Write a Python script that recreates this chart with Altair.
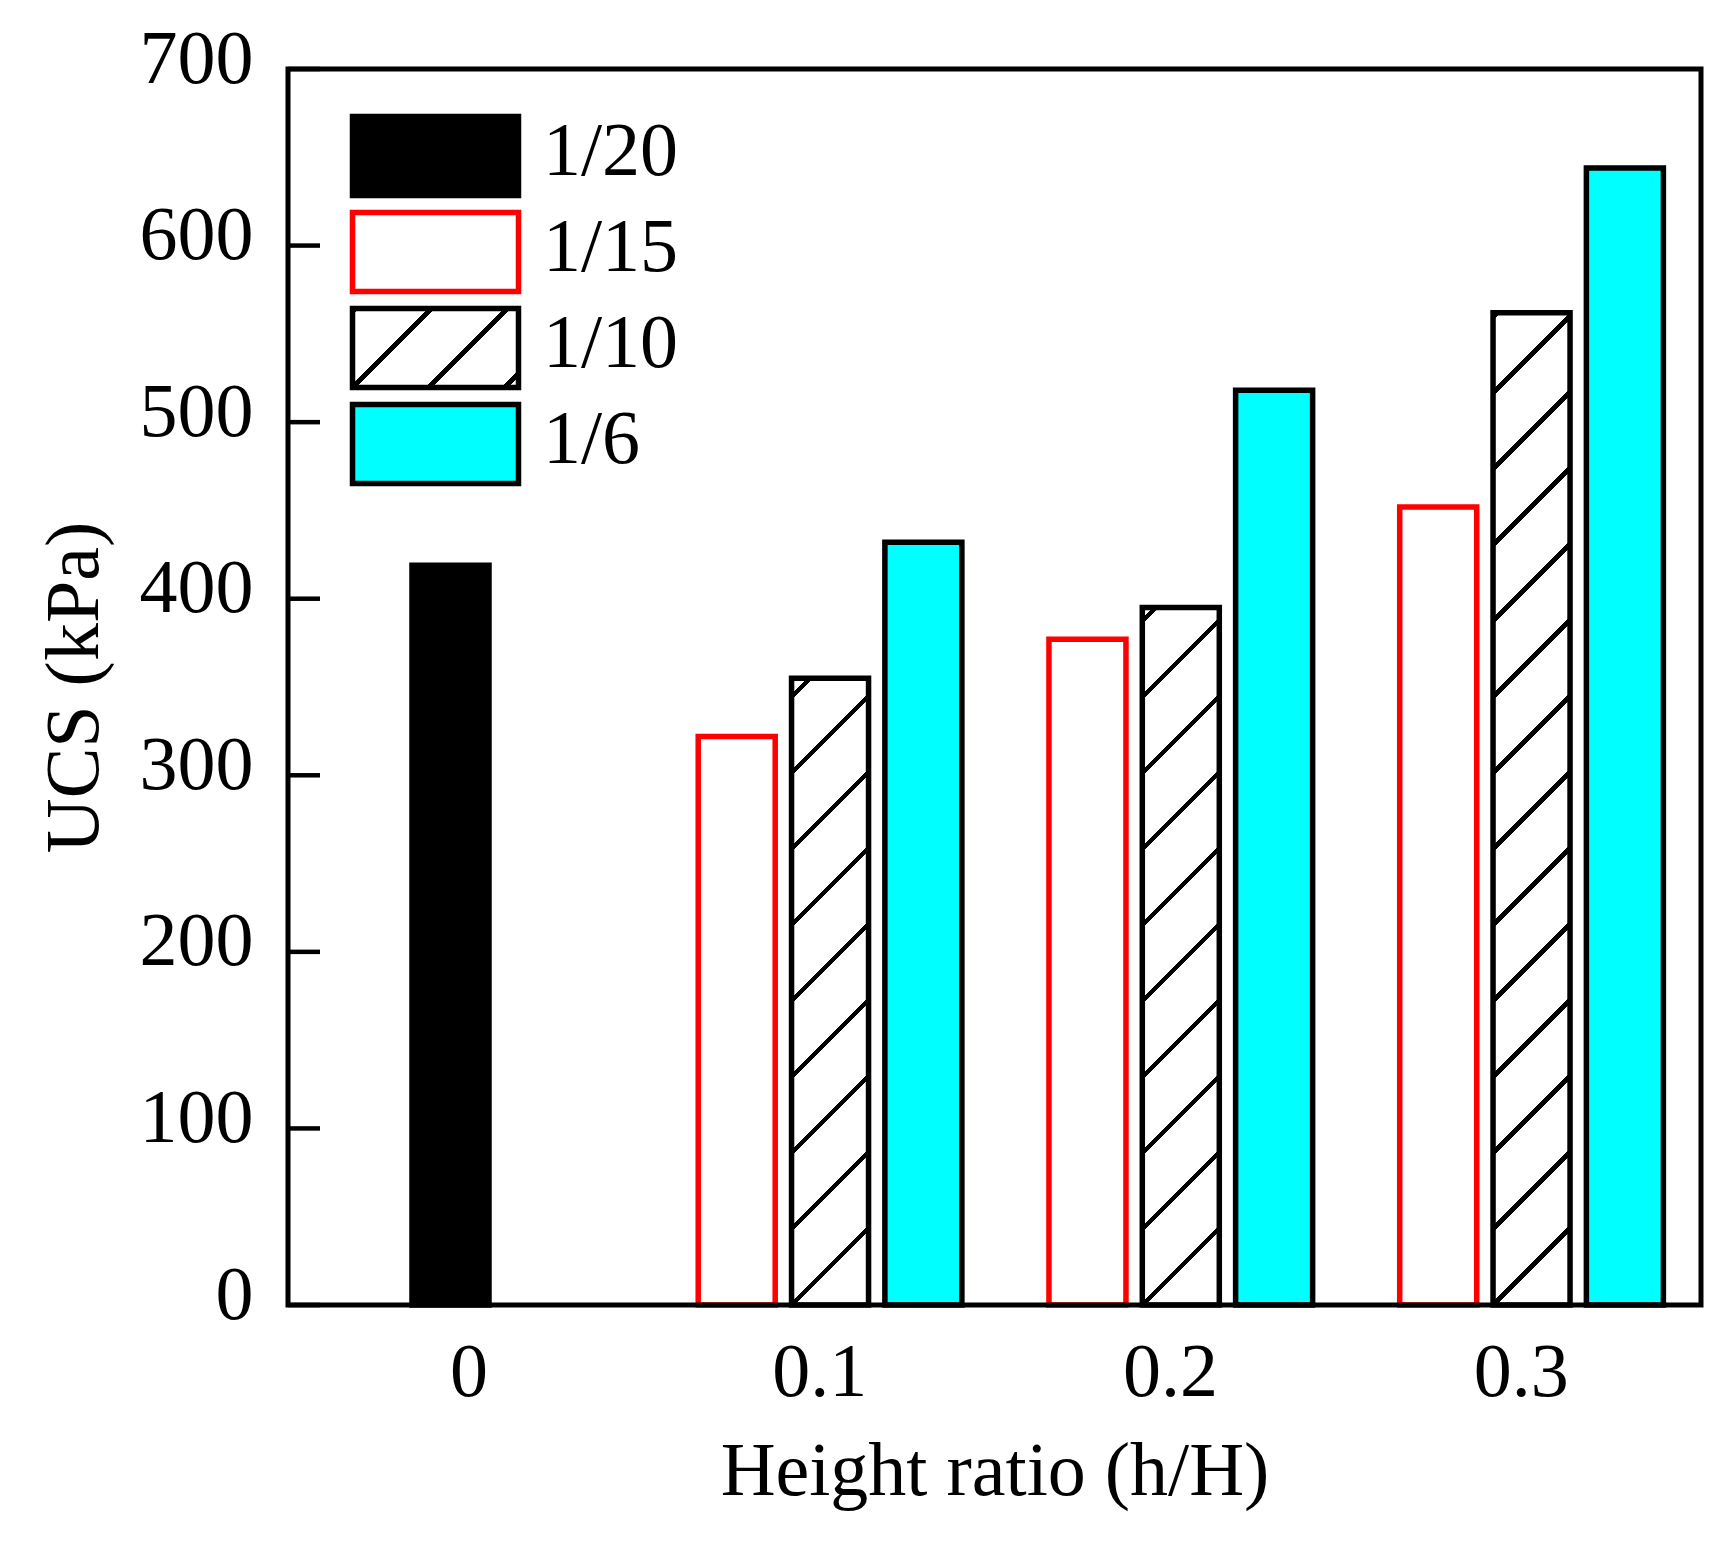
import altair as alt
import pandas as pd

# values (UCS in kPa)
groups = [0, 0.1, 0.2, 0.3]
series = ["1/20", "1/15", "1/10", "1/6"]
ucs_1_20 = [419, None, None, None]
ucs_1_15 = [None, 322, 377, 452]
ucs_1_10 = [None, 355, 395, 562]
ucs_1_6 = [None, 432, 518, 644]
y_ticks = [0, 100, 200, 300, 400, 500, 600, 700]

W, H = 1413, 1236
X_DOMAIN = [-0.05, 0.35]
Y_MAX = 700
FONT = "Liberation Serif"
FS = 76
BAR_W = 77
SW = 5.5

# where each series sits inside its group, in pixels from the group tick
shift_px = {"1/20": -18, "1/15": -83, "1/10": 11, "1/6": 105}
style = {
    "1/20": dict(fill="#000000", stroke="#000000"),
    "1/15": dict(fill="#ffffff", stroke="#ff0000"),
    "1/10": dict(fill="#ffffff", stroke="#000000"),
    "1/6": dict(fill="#00ffff", stroke="#000000"),
}
px_per_unit = W / (X_DOMAIN[1] - X_DOMAIN[0])

rows = []
for s, vals in zip(series, [ucs_1_20, ucs_1_15, ucs_1_10, ucs_1_6]):
    for g, v in zip(groups, vals):
        if v is not None:
            rows.append({"series": s, "group": g, "ucs": v,
                         "pos": g + shift_px[s] / px_per_unit})
df = pd.DataFrame(rows)


def hatch(w, h, gap=76, thick=4.5):
    """diagonal '/' hatching as a striped linear gradient over a w x h box"""
    total = w + h
    c = (1 / h + 1 / w) / (1 / h ** 2 + 1 / w ** 2)
    half = thick * 2 ** 0.5 / 2
    stops = [alt.GradientStop(offset=0, color="white")]
    s = h % gap - gap
    while s < total + gap:
        a = min(max((s - half) / total, 0), 1)
        b = min(max((s + half) / total, 0), 1)
        if b > a:
            stops += [alt.GradientStop(offset=a, color="white"),
                      alt.GradientStop(offset=a, color="black"),
                      alt.GradientStop(offset=b, color="black"),
                      alt.GradientStop(offset=b, color="white")]
        s += gap
    stops.append(alt.GradientStop(offset=1, color="white"))
    return alt.LinearGradient(gradient="linear", stops=stops,
                              x1=0, y1=0, x2=c / h, y2=c / w)


x_enc = alt.X("pos:Q", title="Height ratio (h/H)",
              scale=alt.Scale(domain=X_DOMAIN, nice=False, zero=False),
              axis=alt.Axis(values=groups, format="~g", ticks=False, tickSize=0,
                            domain=False, grid=False, labelPadding=30,
                            titleY=129))
y_enc = alt.Y("ucs:Q", title="UCS (kPa)",
              scale=alt.Scale(domain=[0, Y_MAX], nice=False),
              axis=alt.Axis(values=y_ticks, ticks=False, tickSize=0, domain=False,
                            grid=False, labelPadding=35, labelOffset=-10,
                            titleX=-175, titleY=H / 2))

base = alt.Chart(df).encode(x=x_enc, y=y_enc)
layers = []
for s in series:
    if s == "1/10":
        for g, v in zip(groups, ucs_1_10):
            if v is None:
                continue
            layers.append(
                base.transform_filter((alt.datum.series == s) & (alt.datum.group == g))
                .mark_bar(width=BAR_W, fill=hatch(BAR_W, v / Y_MAX * H),
                          stroke="#000000", strokeWidth=SW)
            )
    else:
        layers.append(
            base.transform_filter(alt.datum.series == s)
            .mark_bar(width=BAR_W, strokeWidth=SW, **style[s])
        )

# inward ticks on the left axis
ticks = alt.Chart(pd.DataFrame({"ucs": y_ticks})).mark_rule(
    stroke="#000000", strokeWidth=4.5
).encode(y=y_enc, x=alt.value(0), x2=alt.value(32))
layers.append(ticks)

# legend drawn inside the plot, top left
LEG_X, LEG_W, LEG_Y, LEG_H, LEG_STEP = 64.5, 166, 47.5, 79, 96
one = alt.Data(values=[{}])
for i, s in enumerate(series):
    top = LEG_Y + i * LEG_STEP
    fill = hatch(LEG_W, LEG_H) if s == "1/10" else style[s]["fill"]
    layers.append(
        alt.Chart(one).mark_rect(fill=fill, stroke=style[s]["stroke"], strokeWidth=SW)
        .encode(x=alt.value(LEG_X), x2=alt.value(LEG_X + LEG_W),
                y=alt.value(top), y2=alt.value(top + LEG_H))
    )
    layers.append(
        alt.Chart(one).mark_text(text=s, align="left", baseline="middle",
                                 font=FONT, fontSize=FS, color="#000000")
        .encode(x=alt.value(255), y=alt.value(top + LEG_H / 2 - 4))
    )

# plot frame on top of the bars
frame = alt.Chart(one).mark_rect(fillOpacity=0, stroke="#000000", strokeWidth=5).encode(
    x=alt.value(0), x2=alt.value("width"), y=alt.value(0), y2=alt.value("height")
)
layers.append(frame)

chart = alt.layer(*layers).properties(
    width=W, height=H,
    padding={"left": 280, "top": 61, "right": 13, "bottom": 233},
    autosize=alt.AutoSizeParams(type="none"),
).configure(background="white").configure_view(strokeWidth=0).configure_axis(
    labelFont=FONT, labelFontSize=FS, labelColor="#000000",
    titleFont=FONT, titleFontSize=FS, titleColor="#000000", titleFontWeight="normal",
)

chart.save("out.html", embed_options={"renderer": "svg", "actions": False})
